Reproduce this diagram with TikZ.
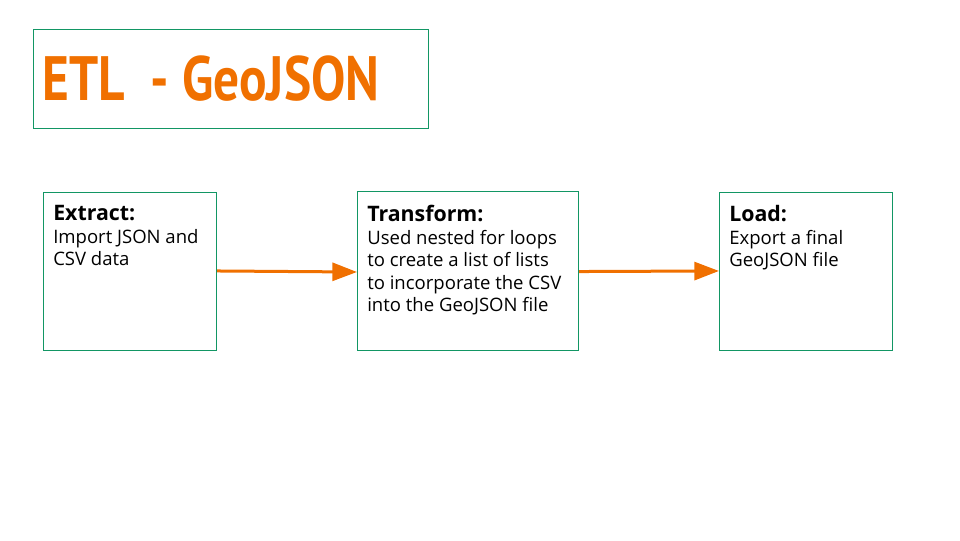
\documentclass[tikz,border=0pt]{standalone}
\usepackage{fontspec}
\setmainfont{Open Sans}
\newfontfamily\titlefont{PT Sans}
\usetikzlibrary{arrows.meta}

\definecolor{boxgreen}{RGB}{18,150,100}
\definecolor{etlorange}{RGB}{240,112,0}

\newcommand{\stagehead}[1]{{\fontsize{16}{16.9}\selectfont\bfseries #1}}

\tikzset{
  framebox/.style={draw=boxgreen, line width=0.75pt, anchor=north west, inner sep=0pt},
  stagetext/.style={anchor=north west, align=left, inner sep=0pt, font=\fontsize{13.9}{16.9}\selectfont},
  flowarrow/.style={draw=etlorange, line width=2.25pt, -{Triangle[length=18.5pt, width=13.5pt]}}
}

\begin{document}
\begin{tikzpicture}[x=0.75pt,y=0.75pt,yscale=-1,xscale=1]
\useasboundingbox (0,0) rectangle (960,540);

% Title
\node [framebox, minimum width=296.25pt, minimum height=74.25pt] (titlebox) at (33,29) {};
\node [anchor=west, inner sep=0pt, text=etlorange] (title) at (42,79)
  {\scalebox{0.82}[1]{\titlefont\bfseries\fontsize{47}{47}\selectfont ETL\ \ - GeoJSON}};

% Stage boxes
\node [framebox, minimum width=129.75pt, minimum height=118.5pt] (extract) at (43,192) {};
\node [framebox, minimum width=165.75pt, minimum height=119.25pt] (transform) at (357,191) {};
\node [framebox, minimum width=129.75pt, minimum height=118.5pt] (load) at (719,192) {};

% Stage texts
\node [stagetext] (extracttext) at (53,205) {\stagehead{Extract:}\\Import JSON and\\CSV data};
\node [stagetext] (transformtext) at (367,205) {\stagehead{Transform:}\\Used nested for loops\\to create a list of lists\\to incorporate the CSV\\into the GeoJSON file};
\node [stagetext] (loadtext) at (729,205) {\stagehead{Load:}\\Export a final\\GeoJSON file};

% Connections
\draw [flowarrow] ([yshift=-0.4pt]extract.east) -- ([yshift=0.75pt]transform.west);
\draw [flowarrow] ([yshift=0.4pt]transform.east) -- ([yshift=-0.4pt]load.west);

\end{tikzpicture}
\end{document}
